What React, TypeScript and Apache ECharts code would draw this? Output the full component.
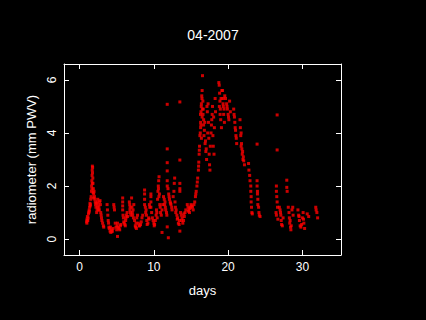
import React, { useEffect, useRef } from "react";
import * as echarts from "echarts";

const titleText = "04-2007";
const xName = "days";
const yName = "radiometer (mm PWV)";
const xTicks = [0, 10, 20, 30];
const yTicks = [0, 2, 4, 6];

// observation day (fractional) and PWV (mm)
const days = [
  0.95, 1.0, 1.05, 1.1, 1.15, 1.2, 0.98, 1.02,
  1.25, 1.3, 1.35, 1.4, 1.45, 1.5, 1.28, 1.42,
  1.55, 1.6, 1.62, 1.65, 1.68, 1.7, 1.72, 1.75, 1.78, 1.66, 1.7, 1.74,
  1.8, 1.85, 1.9, 1.95, 2.0, 2.05, 2.1, 1.82, 1.88,
  2.15, 2.2, 2.3, 2.35, 2.4, 2.45, 2.5, 2.55, 2.25, 2.42,
  2.6, 2.7, 2.8, 2.85, 2.9, 2.95, 2.65, 2.75,
  3.0, 3.1, 3.2, 3.25,
  3.7, 3.75, 3.8, 3.85, 3.9, 3.95,
  4.0, 4.1, 4.2, 4.3, 4.4, 4.5, 4.15, 4.35,
  4.6, 4.65, 4.7, 4.8, 4.9, 5.0,
  5.05, 5.1, 5.2, 5.3, 5.4, 5.5, 5.55, 5.1,
  5.8, 5.8, 5.8, 5.8, 5.85, 5.9, 5.95,
  6.0, 6.1, 6.2, 6.25, 6.3, 6.4, 6.45, 6.15,
  6.7, 6.75, 6.8, 6.85, 6.9, 7.0, 6.78,
  7.05, 7.1, 7.15, 7.2, 7.3, 7.4, 7.5, 7.25,
  7.55, 7.6, 7.7, 7.8, 7.9, 8.0, 7.65,
  8.1, 8.2, 8.3, 8.4, 8.5,
  8.75, 8.75, 8.75, 8.75,
  8.85, 8.9, 9.0, 9.05, 9.1, 9.2, 9.3, 9.35, 9.4, 9.45, 8.95,
  9.6, 9.6, 9.6, 9.6,
  9.7, 9.8, 9.9, 10.0, 10.05, 10.1, 10.2, 10.3, 10.35, 10.4, 10.45,
  10.5, 10.55, 10.6, 10.65, 10.7, 10.75, 10.8, 10.62, 10.68,
  10.85, 10.9, 11.0, 11.1, 11.2, 11.1,
  11.3, 11.4, 11.5, 11.55, 11.6, 11.7, 11.75, 11.45,
  11.8, 11.8, 11.8, 11.8, 11.8, 11.8, 11.8,
  11.9, 12.0, 12.1, 12.2, 12.3, 12.4, 12.45, 11.95, 12.05, 12.25,
  12.6, 12.7, 12.75, 12.8, 12.85, 12.9, 12.95,
  13.0, 13.1, 13.2, 13.3, 13.4, 13.45, 13.15,
  13.5, 13.5, 13.5, 13.5, 13.5, 13.5,
  13.6, 13.7, 13.8, 13.9, 14.0, 14.1, 14.2, 14.3, 13.75, 14.05,
  14.5, 14.6, 14.7, 14.8, 14.9, 15.0, 15.1, 15.3, 14.65, 14.85, 15.2, 15.4,
  15.5, 15.6, 15.7, 15.8, 15.9, 15.65, 15.85,
  16.0, 16.05, 16.1, 16.15, 16.2, 16.02, 16.12,
  16.25, 16.3, 16.35, 16.4, 16.45, 16.5, 16.55, 16.3, 16.4, 16.5, 16.28, 16.38, 16.48, 16.52, 16.33,
  16.6, 16.65, 16.7, 16.8, 16.9, 17.0, 17.1, 16.7, 16.95, 17.15, 16.62, 16.75, 16.85, 17.05,
  17.2, 17.3, 17.35, 17.4, 17.5, 17.55, 17.6, 17.25, 17.45,
  17.7, 17.8, 17.85, 17.9, 18.0, 18.1, 18.15, 18.25, 18.3, 17.75, 17.95, 18.05,
  18.75, 18.8, 18.85, 18.9, 18.95, 19.0, 19.1, 19.15, 18.82, 18.92, 19.05,
  19.25, 19.3, 19.35, 19.4, 19.5, 19.55, 19.32, 19.45,
  19.65, 19.8, 19.9, 20.0, 20.1, 20.2, 20.3, 19.85, 20.05,
  20.75, 20.8, 20.9, 21.0, 21.1, 21.15, 20.85, 20.95, 21.05,
  21.6, 21.65, 21.7, 21.8, 21.85, 21.9, 22.0, 21.75, 21.95,
  22.05, 22.1, 22.2, 21.75,
  22.75, 22.8, 22.9, 22.95,
  23.05, 23.05, 23.1, 23.1, 23.15, 23.2, 23.25,
  23.9, 23.9, 23.9, 23.95, 23.95, 24.0,
  24.0, 24.1, 24.15, 24.2, 24.3,
  26.6, 26.6, 26.5, 26.5, 26.55, 26.6, 26.45, 26.5, 26.7, 26.65,
  26.9, 27.0, 27.1, 27.15, 27.2, 27.3, 27.4, 27.05,
  27.9, 27.9, 27.95,
  28.1, 28.2, 28.25, 28.3, 28.4, 28.45, 28.5, 28.6, 28.7, 28.75, 28.35,
  29.4, 29.5, 29.6, 29.7, 29.8, 29.9, 30.0, 30.1, 30.2, 30.3, 29.55, 30.15,
  30.65, 30.85,
  31.8, 31.85, 31.95, 32.05,
];

const pwv = [
  0.65, 0.75, 0.85, 0.7, 0.8, 0.95, 0.6, 0.7,
  1.0, 1.1, 1.2, 1.35, 1.3, 1.5, 1.05, 1.25,
  1.6, 1.8, 2.0, 2.2, 2.4, 2.6, 2.75, 2.7, 2.3, 1.9, 2.1, 2.5,
  2.1, 1.9, 1.7, 1.8, 1.6, 1.5, 1.4, 1.75, 1.55,
  1.3, 1.2, 1.0, 1.1, 1.4, 1.5, 1.3, 1.1, 1.35, 1.2,
  1.2, 1.4, 1.3, 1.0, 0.9, 0.8, 1.1, 1.45,
  0.7, 0.6, 0.5, 0.45,
  1.3, 1.1, 0.9, 0.7, 0.6, 0.45,
  0.4, 0.3, 0.25, 0.35, 0.3, 0.4, 0.45, 0.28,
  1.3, 1.2, 1.1, 0.6, 0.45, 0.35,
  0.5, 0.6, 0.45, 0.4, 0.35, 0.5, 0.55, 0.1,
  1.55, 1.4, 1.25, 1.1, 0.9, 0.8, 0.65,
  0.6, 0.55, 0.7, 0.8, 0.9, 1.0, 0.85, 0.5,
  1.4, 1.3, 1.2, 1.0, 0.9, 1.55, 1.1,
  1.2, 1.0, 0.9, 1.1, 1.3, 0.7, 0.5, 0.8,
  0.45, 0.6, 0.8, 0.9, 0.6, 0.5, 0.4,
  0.5, 0.55, 0.65, 0.8, 0.9,
  1.85, 1.7, 1.5, 1.3,
  1.2, 1.0, 0.9, 0.7, 0.55, 0.6, 0.8, 0.75, 1.3, 1.2, 1.1,
  1.7, 1.6, 1.4, 1.2,
  1.0, 0.8, 0.7, 0.6, 0.5, 0.55, 0.7, 0.9, 1.1, 1.0, 0.8,
  1.5, 1.8, 2.0, 2.2, 2.35, 1.7, 1.3, 1.9, 1.6,
  1.2, 1.0, 0.9, 1.1, 1.3, 0.25,
  1.6, 1.5, 1.4, 1.2, 1.1, 1.0, 0.9, 1.3,
  5.08, 3.4, 2.88, 2.57, 2.2, 2.0, 0.46,
  1.9, 1.7, 1.5, 1.4, 1.3, 1.2, 1.1, 0.05, 1.6, 1.35,
  1.6, 1.8, 2.1, 2.3, 1.4, 1.2, 1.0,
  1.1, 0.9, 0.8, 0.6, 0.55, 0.7, 0.75,
  5.17, 2.98, 2.1, 1.9, 1.8, 0.3,
  1.0, 0.9, 0.8, 0.6, 0.7, 0.85, 1.0, 1.1, 0.7, 0.95,
  1.3, 1.2, 1.1, 1.0, 1.2, 1.3, 1.25, 1.1, 1.05, 1.15, 1.2, 1.3,
  1.4, 1.6, 1.8, 2.0, 2.3, 1.7, 2.15,
  2.6, 2.9, 3.2, 3.5, 3.9, 2.75, 3.35,
  4.0, 4.4, 4.8, 5.1, 5.4, 5.6, 6.16, 4.2, 3.8, 4.6, 4.7, 5.0, 5.3, 4.9, 4.3,
  5.2, 4.9, 4.5, 4.1, 3.6, 3.3, 3.0, 4.3, 3.7, 5.0, 4.7, 3.9, 4.4, 3.4,
  4.8, 5.1, 4.4, 3.8, 2.8, 2.6, 3.5, 4.0, 3.2,
  4.0, 4.5, 4.7, 5.0, 3.5, 3.2, 4.2, 5.3, 4.8, 4.3, 3.9, 4.6,
  5.9, 5.8, 5.5, 5.2, 4.9, 4.5, 4.2, 5.6, 5.0, 4.7, 5.3,
  5.6, 5.3, 5.0, 4.7, 4.4, 5.4, 5.1, 4.9,
  5.3, 5.1, 4.9, 4.7, 4.5, 5.2, 4.8, 5.0, 4.6,
  4.9, 4.7, 4.4, 4.1, 3.8, 3.6, 4.6, 4.2, 3.9,
  4.5, 4.2, 3.9, 3.6, 3.4, 3.2, 3.0, 4.0, 3.3,
  3.1, 2.95, 2.8, 3.5,
  2.85, 2.6, 2.4, 2.2,
  2.0, 1.8, 1.6, 1.4, 1.2, 1.0, 0.95,
  3.58, 2.2, 2.0, 1.8, 1.7, 1.5,
  1.3, 1.2, 1.0, 0.9, 0.85,
  4.68, 3.36, 2.0, 1.8, 1.6, 1.4, 1.0, 0.9, 0.75, 1.2,
  1.2, 1.1, 0.9, 0.7, 0.55, 0.5, 0.8, 1.0,
  2.22, 1.95, 1.8,
  1.2, 1.0, 0.8, 0.6, 0.45, 0.35, 0.5, 1.1, 1.2, 0.9, 0.7,
  1.1, 0.9, 0.7, 0.5, 0.45, 0.55, 0.8, 1.0, 0.6, 0.4, 0.85, 0.75,
  0.95, 0.85,
  1.2, 1.1, 1.0, 0.8,
];

const FONT = "'Liberation Sans', Arial, sans-serif";

export default function App() {
  const ref = useRef<HTMLDivElement>(null);
  useEffect(() => {
    if (!ref.current) return;
    const chart = echarts.init(ref.current, undefined, { renderer: "svg" });
    const points = days.map((d, i) => [d, pwv[i]]);
    const axisLine = { show: true, onZero: false, lineStyle: { color: "#ffffff", width: 1 } };
    const tick = { show: true, inside: true, length: 5, lineStyle: { color: "#ffffff", width: 1 } };
    const xRange = { min: -2.1, max: 35.2 };
    const yRange = { min: -0.6, max: 6.6 };
    chart.setOption({
      animation: false,
      backgroundColor: "#000000",
      title: {
        text: titleText,
        left: "center",
        top: 23,
        textStyle: { color: "#ffffff", fontSize: 14, fontWeight: "normal", fontFamily: FONT },
      },
      grid: { left: 64, right: 85, top: 64, bottom: 65, containLabel: false },
      xAxis: [
        {
          type: "value",
          ...xRange,
          name: xName,
          nameLocation: "middle",
          nameGap: 29,
          nameTextStyle: { color: "#ffffff", fontSize: 13, fontFamily: FONT },
          axisLine,
          axisTick: { ...tick, customValues: xTicks },
          axisLabel: { color: "#ffffff", fontSize: 12, fontFamily: FONT, margin: 6, customValues: xTicks },
          splitLine: { show: false },
        },
        {
          type: "value",
          position: "top",
          ...xRange,
          axisLine,
          axisTick: { ...tick, customValues: xTicks },
          axisLabel: { show: false },
          splitLine: { show: false },
        },
      ],
      yAxis: [
        {
          type: "value",
          ...yRange,
          name: yName,
          nameLocation: "middle",
          nameGap: 25,
          nameTextStyle: { color: "#ffffff", fontSize: 13, fontFamily: FONT },
          axisLine,
          axisTick: { ...tick, customValues: yTicks },
          axisLabel: { color: "#ffffff", fontSize: 12, fontFamily: FONT, margin: 6, rotate: 90, customValues: yTicks },
          splitLine: { show: false },
        },
        {
          type: "value",
          position: "right",
          ...yRange,
          axisLine,
          axisTick: { ...tick, customValues: yTicks },
          axisLabel: { show: false },
          splitLine: { show: false },
        },
      ],
      series: [
        {
          type: "scatter",
          data: points,
          symbol: "rect",
          symbolSize: [3, 3],
          itemStyle: { color: "#ff0000" },
          xAxisIndex: 0,
          yAxisIndex: 0,
        },
      ],
    });
    return () => chart.dispose();
  }, []);
  return <div ref={ref} style={{ width: 426, height: 320, position: "absolute", left: 0, top: 0 }} />;
}
